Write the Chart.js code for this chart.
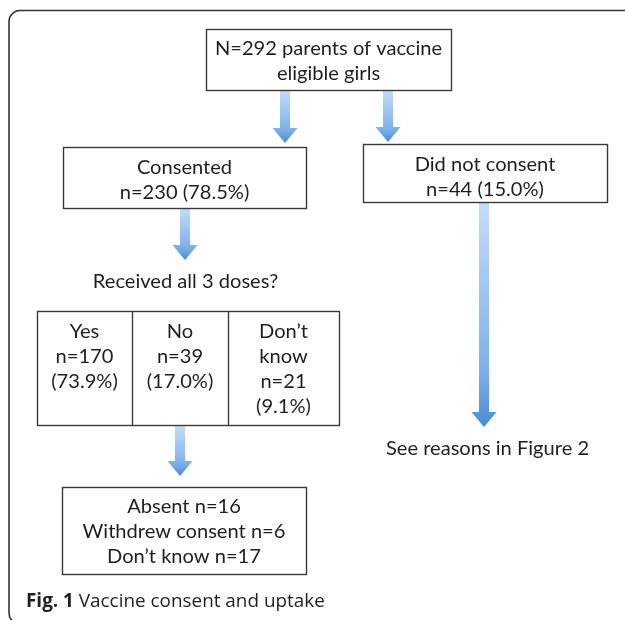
<!DOCTYPE html>
<html lang="en">
<head>
<meta charset="UTF-8">
<title>Fig. 1 Vaccine consent and uptake</title>
<style>
  html, body { margin: 0; padding: 0; background: #fff; }
  #flow { display: block; }
</style>
</head>
<body>
<canvas id="flow" width="625" height="620"></canvas>

<script src="https://cdn.jsdelivr.net/npm/chart.js"></script>
<script>
// values
const totalParents = 292;
const consentLabels = ['Consented', 'Did not consent'];
const consentCounts = [230, 44];
const consentPercents = [78.5, 15.0];
const doseQuestion = 'Received all 3 doses?';
const doseLabels = ['Yes', 'No', 'Don\u2019t know'];
const doseCounts = [170, 39, 21];
const dosePercents = [73.9, 17.0, 9.1];
const missedReasons = ['Absent', 'Withdrew consent', 'Don\u2019t know'];
const missedCounts = [16, 6, 17];
const refusalNote = 'See reasons in Figure 2';
const captionBold = 'Fig. 1';
const captionText = 'Vaccine consent and uptake';

// layout in axis units (x 0-625 left to right, y 0-620 top to bottom)
const boxTop = [206, 29, 451, 90];
const boxConsent = [[63, 147, 306, 208], [363, 144, 607, 202]];
const boxDoses = [37, 311, 339, 425];
const doseDividers = [132, 228];
const boxMissed = [62, 487, 306, 574];
// arrows: centre x, start y, tip y
const arrows = [
    [285, 90, 143],
    [388, 90, 142],
    [185, 208, 260],
    [484, 202, 427],
    [180, 425, 476]
];

const textColor = '#1e1e1e';
const lineColor = '#3a3a3a';

function fitSize(ctx, font, text, width) {
    ctx.font = '100px ' + font;
    return 100 * width / ctx.measureText(text).width;
}

const flowPlugin = {
    id: 'flow',
    afterDraw(chart) {
        const ctx = chart.ctx;
        const X = v => chart.scales.x.getPixelForValue(v);
        const Y = v => chart.scales.y.getPixelForValue(v);

        const size = fitSize(ctx, 'Lato', doseQuestion, X(185) - X(0));
        const font = size.toFixed(1) + 'px Lato';
        const lineH = Y(25) - Y(0);

        ctx.save();

        // outer frame, open on the right and bottom
        ctx.strokeStyle = '#333';
        ctx.lineWidth = 1.6;
        ctx.beginPath();
        ctx.moveTo(X(640), Y(10.5));
        ctx.lineTo(X(20), Y(10.5));
        ctx.arcTo(X(9), Y(10.5), X(9), Y(22), 11);
        ctx.lineTo(X(9), Y(613));
        ctx.arcTo(X(9), Y(624), X(20), Y(624), 11);
        ctx.lineTo(X(640), Y(624));
        ctx.stroke();

        function box(b) {
            ctx.fillStyle = '#fff';
            ctx.fillRect(X(b[0]), Y(b[1]), X(b[2]) - X(b[0]), Y(b[3]) - Y(b[1]));
            ctx.strokeStyle = lineColor;
            ctx.lineWidth = 1.4;
            ctx.strokeRect(Math.round(X(b[0])) + 0.5, Math.round(Y(b[1])) + 0.5,
                Math.round(X(b[2]) - X(b[0])), Math.round(Y(b[3]) - Y(b[1])));
        }

        function lines(list, cx, firstBase) {
            ctx.fillStyle = textColor;
            ctx.font = font;
            ctx.textAlign = 'center';
            ctx.textBaseline = 'alphabetic';
            list.forEach((t, i) => ctx.fillText(t, X(cx), Y(firstBase) + i * lineH));
        }

        function wrap(text, maxW) {
            ctx.font = font;
            if (ctx.measureText(text).width <= maxW) return [text];
            return text.split(' ');
        }

        function arrow(a) {
            const cx = X(a[0]), y0 = Y(a[1]), y1 = Y(a[2]);
            const head = Y(15) - Y(0), sw = X(5) - X(0), hw = X(12.5) - X(0);
            const g = ctx.createLinearGradient(0, y0, 0, y1);
            g.addColorStop(0, '#c3ddf8');
            g.addColorStop(0.75, '#7fb0e8');
            g.addColorStop(1, '#4a8bd6');
            ctx.fillStyle = g;
            ctx.beginPath();
            ctx.moveTo(cx - sw, y0);
            ctx.lineTo(cx + sw, y0);
            ctx.lineTo(cx + sw, y1 - head);
            ctx.lineTo(cx + hw, y1 - head);
            ctx.lineTo(cx, y1);
            ctx.lineTo(cx - hw, y1 - head);
            ctx.lineTo(cx - sw, y1 - head);
            ctx.closePath();
            ctx.fill();
        }

        arrows.forEach(arrow);

        // top box
        box(boxTop);
        lines(['N=' + totalParents + ' parents of vaccine', 'eligible girls'],
            (boxTop[0] + boxTop[2]) / 2, 55);

        // consent boxes
        consentLabels.forEach((lab, i) => {
            const b = boxConsent[i];
            box(b);
            lines([lab, 'n=' + consentCounts[i] + ' (' + consentPercents[i].toFixed(1) + '%)'],
                (b[0] + b[2]) / 2, b[1] + 27);
        });

        lines([doseQuestion], 185.5, 288);

        // three cell box
        box(boxDoses);
        ctx.strokeStyle = lineColor;
        ctx.lineWidth = 1.4;
        doseDividers.forEach(d => {
            ctx.beginPath();
            ctx.moveTo(Math.round(X(d)) + 0.5, Y(boxDoses[1]));
            ctx.lineTo(Math.round(X(d)) + 0.5, Y(boxDoses[3]));
            ctx.stroke();
        });
        const edges = [boxDoses[0]].concat(doseDividers, [boxDoses[2]]);
        doseLabels.forEach((lab, i) => {
            const w = X(edges[i + 1]) - X(edges[i]);
            const rows = wrap(lab, w * 0.72).concat([
                'n=' + doseCounts[i],
                '(' + dosePercents[i].toFixed(1) + '%)'
            ]);
            lines(rows, (edges[i] + edges[i + 1]) / 2, boxDoses[1] + 27);
        });

        lines([refusalNote], 487.5, 455);

        // reasons box
        box(boxMissed);
        lines(missedReasons.map((r, i) => r + ' n=' + missedCounts[i]),
            (boxMissed[0] + boxMissed[2]) / 2, boxMissed[1] + 26);

        // caption
        const cap = captionBold + ' ' + captionText;
        ctx.font = 'bold 100px "Open Sans"';
        const wb = ctx.measureText(captionBold + ' ').width;
        ctx.font = '100px "Open Sans"';
        const wr = ctx.measureText(captionText).width;
        const cs = 100 * (X(299) - X(0)) / (wb + wr);
        ctx.fillStyle = '#231f20';
        ctx.textAlign = 'left';
        ctx.font = 'bold ' + cs.toFixed(1) + 'px "Open Sans"';
        ctx.fillText(captionBold + ' ', X(26), Y(607));
        const off = ctx.measureText(captionBold + ' ').width;
        ctx.font = cs.toFixed(1) + 'px "Open Sans"';
        ctx.fillText(captionText, X(26) + off, Y(607));

        ctx.restore();
    }
};

new Chart(document.getElementById('flow'), {
    type: 'scatter',
    data: { datasets: [] },
    options: {
        responsive: false,
        animation: false,
        layout: { padding: 0 },
        plugins: { legend: { display: false }, tooltip: { enabled: false } },
        scales: {
            x: { type: 'linear', min: 0, max: 625, display: false },
            y: { type: 'linear', min: 0, max: 620, reverse: true, display: false }
        }
    },
    plugins: [flowPlugin]
});
</script>
</body>
</html>
